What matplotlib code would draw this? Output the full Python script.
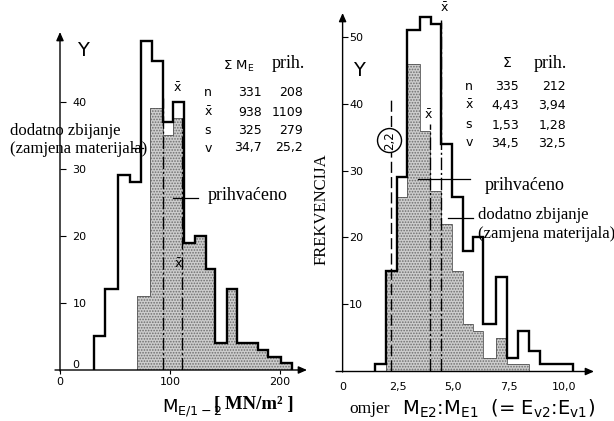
import matplotlib
matplotlib.use('Agg')
import matplotlib.pyplot as plt
from matplotlib.patches import Ellipse
from matplotlib.lines import Line2D

plt.rcParams['mathtext.default'] = 'regular'
plt.rcParams['hatch.linewidth'] = 0.8

SERIF = ['Liberation Serif', 'DejaVu Serif']
SANS = ['DejaVu Sans']

# ---------------- data ----------------
# left chart: M_E/1-2 [MN/m2]
left_total_edges = [31.2, 40.9, 52.3, 63.6, 73.6, 83.9, 93.9, 103.0, 112.7, 122.7,
                    132.7, 140.9, 151.5, 161.2, 170.7, 180.3, 189.4, 200.9, 210.6]
left_total_counts = [5, 12, 29, 28, 49, 46, 37, 40, 19, 20, 15, 4, 12, 4, 4, 3, 2, 1]
left_acc_edges = [70.3, 81.8, 93.9, 103.0, 112.7, 122.7, 132.7, 140.9, 151.5, 161.2,
                  170.7, 180.3, 189.4, 200.9, 210.6]
left_acc_counts = [11, 39, 35, 37.5, 19, 20, 15, 4, 12, 4, 4, 3, 2, 1]
left_mean_total = 93.8
left_mean_acc = 110.9
left_xticks = [0, 100, 200]
left_yticks = [0, 10, 20, 30, 40]

# right chart: omjer M_E2:M_E1
right_total_edges = [1.47, 1.96, 2.45, 2.90, 3.50, 4.00, 4.45, 4.93, 5.46, 5.91,
                     6.36, 6.93, 7.44, 7.94, 8.44, 8.92, 10.42]
right_total_counts = [1, 15, 29, 51, 53, 52, 34, 26, 18, 20, 7, 14, 2, 6, 3, 1]
right_acc_edges = [1.96, 2.45, 2.90, 3.50, 3.94, 4.45, 4.93, 5.46, 5.91, 6.36,
                   6.93, 7.44, 7.94, 8.44]
right_acc_counts = [15, 26, 46, 36, 27, 22, 15, 7, 6, 2, 5, 1, 1]
right_mean_total = 4.43
right_mean_acc = 3.94
right_limit = 2.2
right_xticks = [0, 2.5, 5.0, 7.5, 10.0]
right_xticklabels = ['0', '2,5', '5,0', '7,5', '10,0']
right_yticks = [10, 20, 30, 40, 50]

stat_rows = ['n', r'$\bar{x}$', 's', 'v']
left_stats_total = ['331', '938', '325', '34,7']
left_stats_acc = ['208', '1109', '279', '25,2']
right_stats_total = ['335', '4,43', '1,53', '34,5']
right_stats_acc = ['212', '3,94', '1,28', '32,5']

# ---------------- figure ----------------
W, H = 614, 421
fig = plt.figure(figsize=(W / 100, H / 100), dpi=100)
fig.patch.set_facecolor('white')


def fx(x):
    return x / W


def fy(y):
    return 1 - y / H


def ftext(x, y, s, **kw):
    kw.setdefault('ha', 'center')
    kw.setdefault('va', 'center')
    fig.text(fx(x), fy(y), s, **kw)


def fline(x0, y0, x1, y1, lw=0.9, color='black'):
    fig.add_artist(Line2D([fx(x0), fx(x1)], [fy(y0), fy(y1)],
                          transform=fig.transFigure, lw=lw, color=color))


def farrow(x0, y0, x1, y1):
    fig.add_artist(matplotlib.patches.FancyArrowPatch(
        (fx(x0), fy(y0)), (fx(x1), fy(y1)), transform=fig.transFigure,
        arrowstyle='-|>,head_length=5,head_width=2.2', lw=1.0, color='black',
        shrinkA=0, shrinkB=0))


SHADE = '#cdcdcd'
HATCHC = '#6e6e6e'


def draw_hist(ax, tot_e, tot_c, acc_e, acc_c):
    ax.stairs(acc_c, acc_e, fill=True, facecolor=SHADE, edgecolor=HATCHC,
              hatch='......', lw=0, zorder=1)
    ax.stairs(acc_c, acc_e, fill=False, color='#555555', lw=0.6, zorder=2)
    ax.stairs(tot_c, tot_e, fill=False, color='black', lw=1.7, zorder=3)


def clean(ax):
    for s in ax.spines.values():
        s.set_visible(False)
    ax.set_facecolor('none')


# ----- left axes -----
axL = fig.add_axes([fx(60), fy(370), (305 - 60) / W, (370 - 30) / H])
axL.set_xlim(0, 245 / 1.1)
axL.set_ylim(0, 340 / 6.71)
clean(axL)
draw_hist(axL, left_total_edges, left_total_counts, left_acc_edges, left_acc_counts)
axL.plot([left_mean_total] * 2, [0, 40.5], color='black', lw=1.0,
         ls=(0, (9, 2, 1.5, 2)), zorder=4)
axL.plot([left_mean_acc] * 2, [0, 37.5], color='black', lw=1.0,
         ls=(0, (9, 2, 1.5, 2)), zorder=4)
axL.set_xticks(left_xticks)
axL.set_xticklabels([str(v) for v in left_xticks])
axL.tick_params(axis='x', direction='out', length=3, width=0.8, pad=2, labelsize=8)
axL.set_yticks(left_yticks)
axL.set_yticklabels([str(v) for v in left_yticks])
axL.tick_params(axis='y', direction='in', length=4, width=0.8, pad=-9, labelsize=8)
for lab in axL.get_yticklabels():
    lab.set_horizontalalignment('left')
axL.get_yticklabels()[0].set_verticalalignment('bottom')
axL.yaxis.get_major_ticks()[0].tick1line.set_visible(False)

# ----- right axes -----
axR = fig.add_axes([fx(342.3), fy(371), (592 - 342.3) / W, (371 - 12) / H])
axR.set_xlim(0, 249.7 / 22.17)
axR.set_ylim(0, 359 / 6.68)
clean(axR)
draw_hist(axR, right_total_edges, right_total_counts, right_acc_edges, right_acc_counts)
axR.plot([right_mean_total] * 2, [0, 52.5], color='black', lw=1.0,
         ls=(0, (9, 2, 1.5, 2)), zorder=4)
axR.plot([right_mean_acc] * 2, [0, 37.0], color='black', lw=1.0,
         ls=(0, (9, 2, 1.5, 2)), zorder=4)
axR.plot([right_limit] * 2, [0, 40.5], color='black', lw=1.0,
         ls=(0, (8, 3)), zorder=4)
axR.add_patch(Ellipse((2.13, 34.5), width=24 / 22.17, height=24 / 6.68,
                      facecolor='white', edgecolor='black', lw=1.0, zorder=5))
axR.text(2.13, 34.5, '2,2', rotation=90, ha='center', va='center',
         fontsize=8.5, family=SANS, zorder=6)
axR.set_xticks(right_xticks)
axR.set_xticklabels(right_xticklabels)
axR.tick_params(axis='x', direction='out', length=0, pad=8, labelsize=8)
axR.set_yticks(right_yticks)
axR.set_yticklabels([str(v) for v in right_yticks])
axR.tick_params(axis='y', direction='in', length=4, width=0.8, pad=-5, labelsize=8)
for lab in axR.get_yticklabels():
    lab.set_horizontalalignment('left')

# ----- axes arrows -----
farrow(60, 371, 60, 32)
farrow(55, 370, 307, 370)
farrow(342.6, 372, 342.6, 13)
farrow(336, 371.5, 594, 371.5)

# ----- left texts -----
ftext(83, 50, 'Y', fontsize=14, family=SANS)
ftext(177, 88, r'$\bar{x}$', fontsize=9, family=SANS)
ftext(178, 264, r'$\bar{x}$', fontsize=9, family=SANS)
ftext(239, 66, r'Σ M$_E$', fontsize=9.5, family=SANS)
ftext(288, 63, 'prih.', fontsize=13, family=SERIF)
left_row_y = [92, 112, 130.5, 148]
for r, a, b, y in zip(stat_rows, left_stats_total, left_stats_acc, left_row_y):
    ftext(208, y, r, fontsize=9, family=SANS)
    ftext(262, y, a, fontsize=9, family=SANS, ha='right')
    ftext(303, y, b, fontsize=9, family=SANS, ha='right')
ftext(10, 131, 'dodatno zbijanje', fontsize=12, family=SERIF, ha='left')
ftext(10, 149, '(zamjena materijala)', fontsize=12, family=SERIF, ha='left')
fline(132, 148, 143, 148)
ftext(208, 196, 'prihvaćeno', fontsize=13, family=SERIF, ha='left')
fline(173, 198, 198, 198)
ftext(162, 408, r'M$_{E/1-2}$', fontsize=13, family=SANS, ha='left')
ftext(254, 405, '[ MN/m² ]', fontsize=13.5, family=SERIF, weight='bold')

# ----- right texts -----
ftext(359, 70, 'Y', fontsize=14, family=SANS)
ftext(444, 8, r'$\bar{x}$', fontsize=9, family=SANS)
ftext(428, 115, r'$\bar{x}$', fontsize=9, family=SANS)
ftext(507, 63, 'Σ', fontsize=10, family=SANS)
ftext(550, 63, 'prih.', fontsize=13, family=SERIF)
right_row_y = [87, 105, 125, 143]
for r, a, b, y in zip(stat_rows, right_stats_total, right_stats_acc, right_row_y):
    ftext(469, y, r, fontsize=9, family=SANS)
    ftext(519, y, a, fontsize=9, family=SANS, ha='right')
    ftext(566, y, b, fontsize=9, family=SANS, ha='right')
ftext(485, 185, 'prihvaćeno', fontsize=13, family=SERIF, ha='left')
fline(418, 179, 470, 179)
ftext(478, 215, 'dodatno zbijanje', fontsize=12, family=SERIF, ha='left')
ftext(478, 234, '(zamjena materijala)', fontsize=12, family=SERIF, ha='left')
fline(448, 218, 473, 218)
fline(463, 213, 463, 223, lw=0.7)
ftext(322, 209, 'FREKVENCIJA', fontsize=12, family=SERIF, rotation=90)
ftext(349, 409, 'omjer', fontsize=12.5, family=SERIF, ha='left')
ftext(402, 409, r'M$_{E2}$:M$_{E1}$  (= E$_{v2}$:E$_{v1}$)', fontsize=14,
      family=SANS, ha='left')

fig.savefig('out.png', dpi=100, facecolor='white')
